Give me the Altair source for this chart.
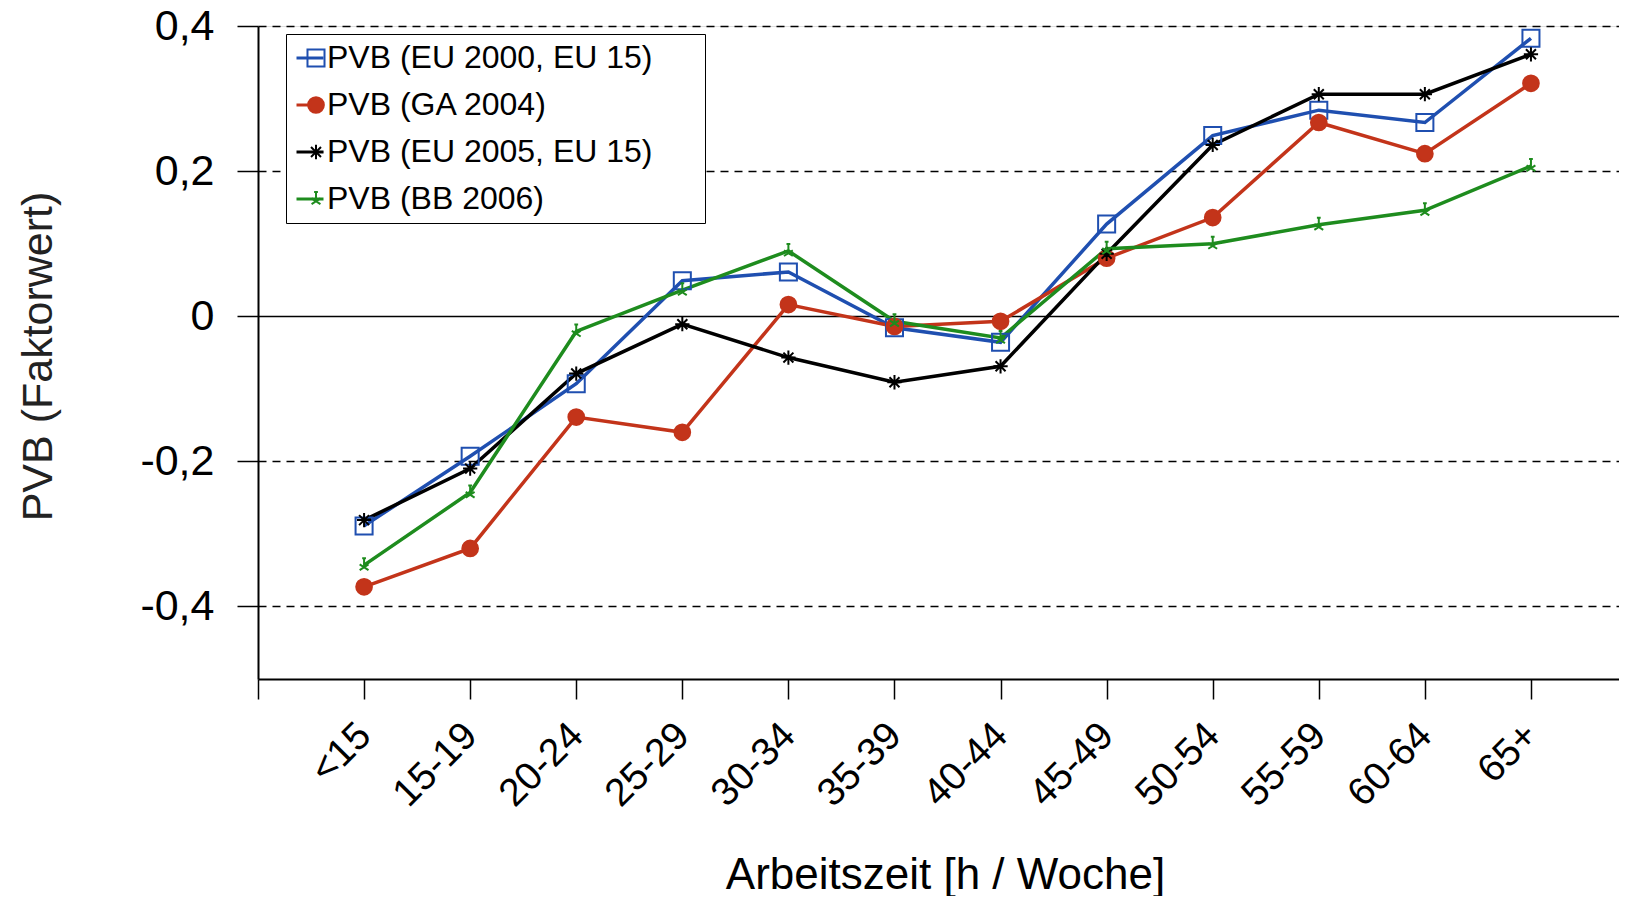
import json
import altair as alt
import pandas as pd

categories = ["<15", "15-19", "20-24", "25-29", "30-34", "35-39", "40-44",
              "45-49", "50-54", "55-59", "60-64", "65+"]
series_names = ["PVB (EU 2000, EU 15)", "PVB (GA 2004)",
                "PVB (EU 2005, EU 15)", "PVB (BB 2006)"]
eu2000 = [-0.289, -0.193, -0.093, 0.049, 0.061, -0.016, -0.036, 0.127, 0.249, 0.284, 0.267, 0.383]
ga2004 = [-0.373, -0.320, -0.139, -0.160, 0.016, -0.014, -0.007, 0.080, 0.136, 0.267, 0.224, 0.321]
eu2005 = [-0.281, -0.210, -0.079, -0.011, -0.057, -0.091, -0.069, 0.086, 0.236, 0.306, 0.306, 0.361]
bb2006 = [-0.343, -0.243, -0.021, 0.036, 0.090, -0.007, -0.030, 0.093, 0.100, 0.126, 0.146, 0.207]

colors = ["#1f4fb0", "#c3341a", "#000000", "#1e8c1e"]
fills = ["transparent", "#c3341a", "transparent", "transparent"]
marker_sizes = [290, 160, 330, 270]
star = "M-1,0L1,0M0,-1L0,1M-0.7,-0.7L0.7,0.7M-0.7,0.7L0.7,-0.7"
green_mark = "M0,-1.1L0,0.1M-0.3,-1.1L0.3,-1.1M-0.7,-0.1L0.7,0.8M-0.7,0.8L0.7,-0.1"
shapes = ["square", "circle", star, green_mark]

# line-legend labels differ from the point-legend domain so the two legends stay apart
line_names = [n + "\u00a0" for n in series_names]

rows = []
for name, lname, vals in zip(series_names, line_names, [eu2000, ga2004, eu2005, bb2006]):
    for i, v in enumerate(vals):
        rows.append({"idx": i + 1, "value": v, "series": name, "series_l": lname})
df = pd.DataFrame(rows)

FONT = "Liberation Sans"
label_arr = json.dumps([""] + categories)

x_enc = alt.X(
    "idx:Q",
    scale=alt.Scale(domain=[0, 12.83], nice=False, zero=False),
    axis=alt.Axis(
        title="Arbeitszeit [h / Woche]",
        values=list(range(0, 13)),
        labelExpr=f"{label_arr}[datum.value]",
        labelAngle=315,
        labelAlign="right",
        labelBaseline="middle",
        labelPadding=30,
        labelFontSize=39,
        labelFont=FONT,
        labelColor="black",
        labelOverlap=False,
        tickSize=20,
        tickColor="black",
        tickWidth=1.5,
        domainColor="black",
        domainWidth=2,
        grid=False,
        titleFont=FONT,
        titleFontSize=44,
        titleFontWeight="normal",
        titleColor="black",
        titleX=687,
        titleY=209,
        titleAlign="center",
        titleBaseline="alphabetic",
    ),
)

y_enc = alt.Y(
    "value:Q",
    scale=alt.Scale(domain=[-0.5, 0.4], nice=False, zero=False),
    axis=alt.Axis(
        title="PVB (Faktorwert)",
        values=[-0.4, -0.2, 0, 0.2, 0.4],
        labelExpr="datum.value == 0 ? '0' : (datum.value < 0 ? '-' : '') + replace(format(abs(datum.value), '.1f'), '.', ',')",
        labelFontSize=43,
        labelFont=FONT,
        labelColor="black",
        labelPadding=23,
        tickSize=21,
        tickColor="black",
        tickWidth=1.5,
        domainColor="black",
        domainWidth=2,
        grid=True,
        gridColor="black",
        gridWidth=1.5,
        gridOpacity=1,
        gridDash={"condition": {"test": "datum.value === 0", "value": []}, "value": [8, 6]},
        titleFont=FONT,
        titleFontSize=43,
        titleFontWeight="normal",
        titleColor="#222222",
        titleAngle=270,
        titleX=-220,
        titleY=330,
        titleAlign="center",
        titleBaseline="middle",
    ),
)

lines = alt.Chart(df).mark_line(strokeWidth=3.5).encode(
    x=x_enc,
    y=y_enc,
    color=alt.Color(
        "series_l:N",
        scale=alt.Scale(domain=line_names, range=colors),
        legend=alt.Legend(
            title="\u00a0",
            titleOrient="right",
            titleFontSize=4,
            titleOpacity=0,
            titlePadding=45,
            orient="none",
            legendX=28,
            legendY=8,
            zindex=1,
            symbolType="stroke",
            symbolSize=729,
            symbolStrokeWidth=3,
            labelFont=FONT,
            labelFontSize=32,
            labelColor="black",
            labelOffset=1,
            labelLimit=1000,
            rowPadding=15,
            padding=8,
            strokeColor="black",
            fillColor="white",
        ),
    ),
    order=alt.Order("idx:Q"),
)

pt_legend = dict(
    title=None,
    orient="none",
    legendX=34,
    legendY=8,
    zindex=2,
    symbolSize=200,
    symbolStrokeWidth=2,
    labelFont=FONT,
    labelFontSize=32,
    labelExpr="''",
    labelLimit=1000,
    rowPadding=15,
    padding=8,
)

points = alt.Chart(df).mark_point(opacity=1, strokeWidth=2).encode(
    x="idx:Q",
    y="value:Q",
    stroke=alt.Stroke("series:N", scale=alt.Scale(domain=series_names, range=colors),
                      legend=alt.Legend(**pt_legend)),
    fill=alt.Fill("series:N", scale=alt.Scale(domain=series_names, range=fills),
                  legend=alt.Legend(**pt_legend)),
    shape=alt.Shape("series:N", scale=alt.Scale(domain=series_names, range=shapes),
                    legend=alt.Legend(**pt_legend)),
    size=alt.Size("series:N", scale=alt.Scale(domain=series_names, range=marker_sizes),
                  legend=alt.Legend(**pt_legend)),
)

chart = alt.layer(lines, points).properties(
    width=1361,
    height=653,
    autosize=alt.AutoSizeParams(type="none"),
    padding={"left": 250, "top": 18, "right": 0, "bottom": 217},
).configure_view(stroke=None).configure(font=FONT)

chart.save("out.html", embed_options={"renderer": "svg", "actions": False})
